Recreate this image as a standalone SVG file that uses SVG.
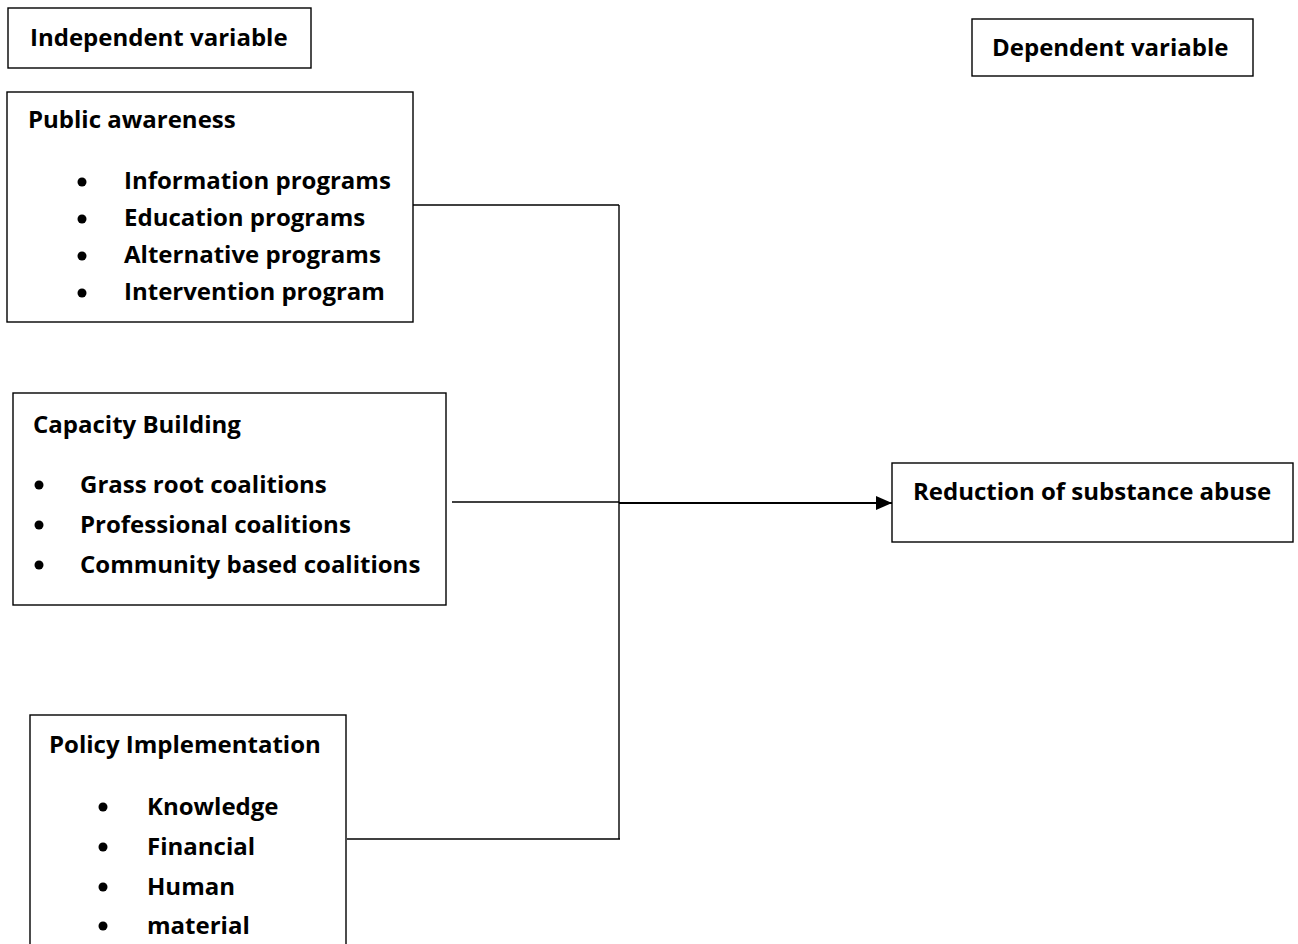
<svg xmlns="http://www.w3.org/2000/svg" width="1298" height="944" viewBox="0 0 1298 944">
<style>
.box{fill:#fff;stroke:#000;stroke-width:1.4}
.t{font-family:"Open Sans","Liberation Sans",sans-serif;font-weight:bold;font-size:24px;fill:#000}
.ln{fill:none;stroke:#000;stroke-width:1.4}
.ar{fill:none;stroke:#000;stroke-width:2.2}
</style>
<defs>
<marker id="ah" markerWidth="16" markerHeight="14" refX="16" refY="7" orient="auto" markerUnits="userSpaceOnUse">
<path d="M0,0 L16,7 L0,14 Z" fill="#000"/>
</marker>
</defs>
<rect width="1298" height="944" fill="#fff"/>
<g id="independent-label">
<rect class="box" x="8" y="8" width="303" height="60"/>
<text class="t" x="30" y="46">Independent variable</text>
</g>
<g id="dependent-label">
<rect class="box" x="972" y="19" width="281" height="57"/>
<text class="t" x="992" y="56">Dependent variable</text>
</g>
<g id="public-awareness">
<rect class="box" x="7" y="92" width="406" height="230"/>
<text class="t" x="28" y="128">Public awareness</text>
<circle cx="82" cy="182" r="4.5"/>
<circle cx="82" cy="219" r="4.5"/>
<circle cx="82" cy="256" r="4.5"/>
<circle cx="82" cy="293" r="4.5"/>
<text class="t" x="124" y="189">Information programs</text>
<text class="t" x="124" y="226">Education programs</text>
<text class="t" x="124" y="263">Alternative programs</text>
<text class="t" x="124" y="300">Intervention program</text>
</g>
<g id="capacity-building">
<rect class="box" x="13" y="393" width="433" height="212"/>
<text class="t" x="33" y="433">Capacity Building</text>
<circle cx="39" cy="485" r="4.5"/>
<circle cx="39" cy="525" r="4.5"/>
<circle cx="39" cy="565" r="4.5"/>
<text class="t" x="80" y="493">Grass root coalitions</text>
<text class="t" x="80" y="533">Professional coalitions</text>
<text class="t" x="80" y="573">Community based coalitions</text>
</g>
<g id="policy-implementation">
<rect class="box" x="30" y="715" width="316" height="240"/>
<text class="t" x="49" y="753">Policy Implementation</text>
<circle cx="103" cy="807" r="4.5"/>
<circle cx="103" cy="847" r="4.5"/>
<circle cx="103" cy="887" r="4.5"/>
<circle cx="103" cy="926" r="4.5"/>
<text class="t" x="147" y="815">Knowledge</text>
<text class="t" x="147" y="855">Financial</text>
<text class="t" x="147" y="895">Human</text>
<text class="t" x="147" y="934">material</text>
</g>
<g id="reduction">
<rect class="box" x="892" y="463" width="401" height="79"/>
<text class="t" x="913" y="500">Reduction of substance abuse</text>
</g>
<g id="connectors">
<path class="ln" d="M413,205 H619"/>
<path class="ln" d="M619,205 V839"/>
<path class="ln" d="M452,502 H619"/>
<path class="ln" d="M347,839 H620"/>
<path class="ar" d="M619,503 H892" marker-end="url(#ah)"/>
</g>
</svg>
